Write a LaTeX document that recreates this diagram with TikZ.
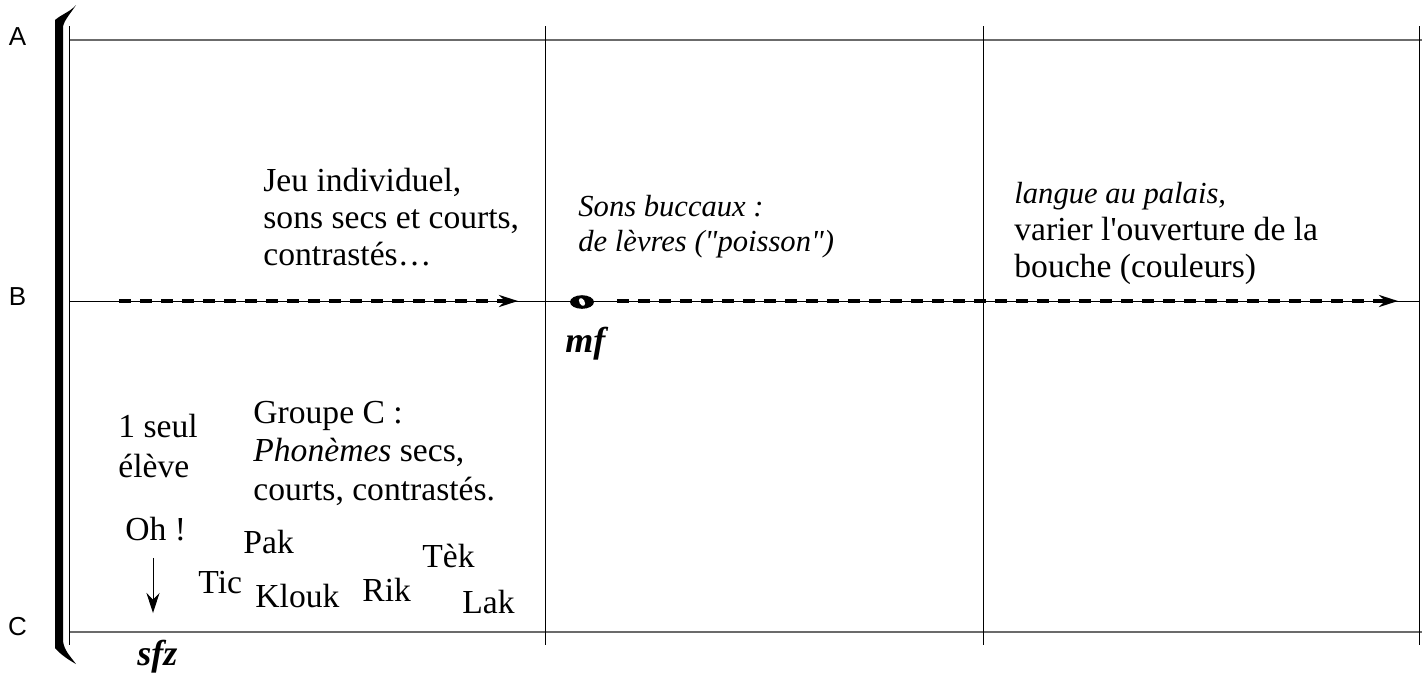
\documentclass[tikz,border=0pt]{standalone}
\usepackage{fontspec}
\setmainfont{Liberation Serif}[Ligatures=TeXOff]
\setsansfont{Liberation Sans}
\usetikzlibrary{arrows.meta}

\tikzset{
  texte/.style={inner sep=0pt, anchor=base west, align=left,
    font=\fontsize{16.8}{18.5}\selectfont},
  consigne/.style={texte, font=\fontsize{15.3}{17.5}\selectfont\itshape},
  nuance/.style={inner sep=0pt, anchor=base west,
    font=\fontsize{18}{18}\selectfont\bfseries\itshape},
  repere/.style={inner sep=0pt, font=\fontsize{13}{13}\selectfont\sffamily},
  portee/.style={line width=0.5pt},
  cadre/.style={line width=0.75pt, draw=black!58},
  fleche/.style={line width=2pt, dash pattern=on 6pt off 4.5pt,
    -{Stealth[length=9.5pt,width=6pt]}},
  descente/.style={line width=0.5pt, -{Stealth[length=10pt,width=6.5pt]}},
}

\begin{document}
\begin{tikzpicture}[x=0.5pt,y=-0.5pt]
  \useasboundingbox (0,0) rectangle (1428,677);

  % grille
  \coordinate (A0) at (69,40);   \coordinate (A1) at (1422,40);
  \coordinate (B0) at (69,301);  \coordinate (B1) at (1420,301);
  \coordinate (C0) at (69,632);  \coordinate (C1) at (1422,632);
  \draw[cadre] (A0) -- (A1);
  \draw[cadre] (C0) -- (C1);
  \draw[portee] (B0) -- (B1);
  \draw[portee] (69,26) -- (69,645);
  \foreach \x in {545,983,1419}
    \draw[portee] (\x,26) -- (\x,645);

  % accolade
  \fill (55,648) -- (55,20) .. controls (62,14) and (70,12) .. (76,5)
    .. controls (71,13) and (64,20) .. (63,27) -- (63,641)
    .. controls (64,650) and (70,656) .. (76,664)
    .. controls (69,660) and (61,655) .. (55,648) -- cycle;

  \node[repere] (labA) at (17.5,37) {A};
  \node[repere] (labB) at (17.5,297) {B};
  \node[repere] (labC) at (17.5,627) {C};

  % fleches pointillees
  \coordinate (f1a) at (119,301); \coordinate (f1b) at (518,301);
  \coordinate (f2a) at (617,301); \coordinate (f2b) at (1398,301);
  \draw[fleche] (f1a) -- (f1b);
  \draw[fleche] (f2a) -- (f2b);

  % ronde
  \fill (582,302) ellipse [x radius=6pt, y radius=3.4pt];
  \fill[white, rotate around={-60:(582,302)}] (582,302)
    ellipse [x radius=2.1pt, y radius=1.3pt];

  \node[nuance] (mf) at (565,352) {mf};
  \node[nuance] (sfz) at (137,665) {sfz};

  % textes (ancre sur la derniere ligne)
  \node[texte] (jeu) at (263,265)
    {Jeu individuel,\\sons secs et courts,\\contrastés…};
  \node[consigne] (buccaux) at (578,251)
    {Sons buccaux :\\de lèvres ("poisson")};
  \node[consigne] (palais) at (1014,203) {langue au palais,};
  \node[texte] (ouverture) at (1014,277)
    {varier l'ouverture de la\\bouche (couleurs)};
  \node[texte, font=\fontsize{16.8}{20}\selectfont] (seul) at (118,477)
    {1 seul\\élève};
  \node[texte, font=\fontsize{16.8}{19.25}\selectfont] (groupe) at (253,500)
    {Groupe C :\\\textit{Phonèmes} secs,\\courts, contrastés.};
  \node[texte] (oh) at (125,540) {Oh !};
  \node[texte] (pak) at (243,553) {Pak};
  \node[texte] (tek) at (422,567) {Tèk};
  \node[texte] (tic) at (198,593) {Tic};
  \node[texte] (klouk) at (255,607) {Klouk};
  \node[texte] (rik) at (362,601) {Rik};
  \node[texte] (lak) at (462,613) {Lak};

  \coordinate (ohfin) at (153,613);
  \draw[descente, shorten <=8.5pt] (oh.south -| ohfin) -- (ohfin);
\end{tikzpicture}
\end{document}
